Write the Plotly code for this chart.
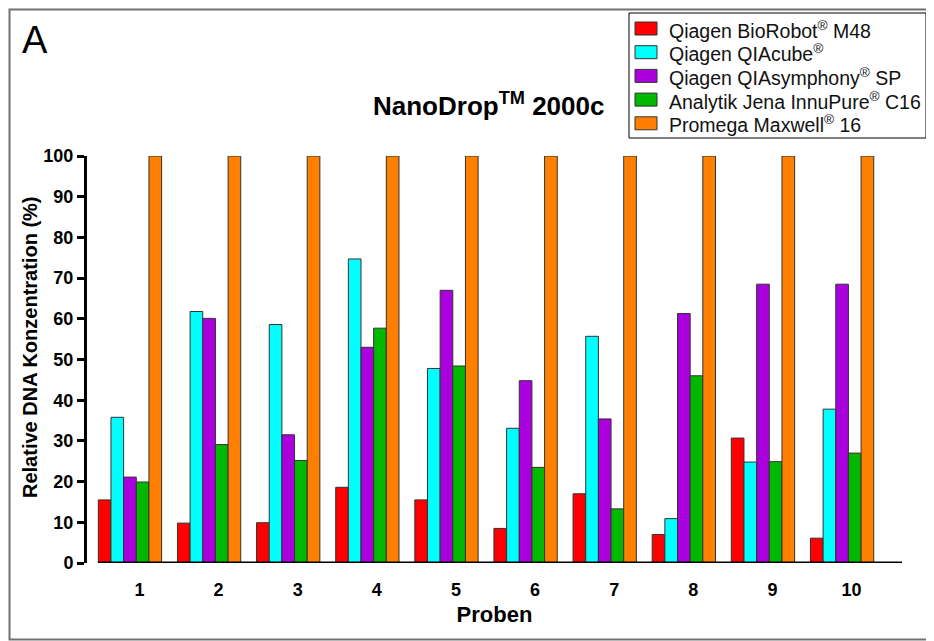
import plotly.graph_objects as go

samples = [1, 2, 3, 4, 5, 6, 7, 8, 9, 10]
tick_labels = ["1", "2", "3", "4", "5", "6", "7", "8", "9", "10"]

series_names = [
    "Qiagen BioRobot<sup>®</sup> M48",
    "Qiagen QIAcube<sup>®</sup>",
    "Qiagen QIAsymphony<sup>®</sup> SP",
    "Analytik Jena InnuPure<sup>®</sup> C16",
    "Promega Maxwell<sup>®</sup> 16",
]
biorobot = [15.5, 9.8, 9.9, 18.6, 15.5, 8.5, 17.0, 7.0, 30.7, 6.1]
qiacube = [35.8, 61.8, 58.6, 74.7, 47.8, 33.1, 55.7, 10.9, 24.8, 37.8]
qiasymphony = [21.1, 60.1, 31.5, 53.0, 67.0, 44.8, 35.4, 61.3, 68.5, 68.5]
innupure = [19.9, 29.1, 25.2, 57.7, 48.4, 23.5, 13.3, 46.0, 24.9, 27.0]
maxwell = [100, 100, 100, 100, 100, 100, 100, 100, 100, 100]

colors = ["#FF0000", "#00FFFF", "#AA00DD", "#00B800", "#FF8000"]
FONT = "Liberation Sans, Arial, sans-serif"

fig = go.Figure()
for name, vals, col in zip(series_names, [biorobot, qiacube, qiasymphony, innupure, maxwell], colors):
    fig.add_trace(go.Bar(
        x=samples, y=vals, name=name, showlegend=False,
        marker=dict(color=col, line=dict(color="#333333", width=1)),
    ))

# page body has an 8px margin: figure is drawn 8px right/down of window origin
OFF = 8
W, H = 934 - OFF, 641 - OFF
PL, PR, PT, PB = 87, 902, 156, 563          # plot area in window pixels
L, T = PL - OFF, PT - OFF
R, B = W - (PR - OFF), H - (PB - OFF)
pw, ph = PR - PL, PB - PT

def px_x(px):
    return (px - PL) / pw

def px_y(py):
    return (PB - py) / ph

fig.update_layout(
    width=W, height=H,
    margin=dict(l=L, r=R, t=T, b=B, autoexpand=False),
    paper_bgcolor="white", plot_bgcolor="white",
    barmode="group", bargap=0.2, bargroupgap=0,
    font=dict(family=FONT, color="black"),
    showlegend=False,
    xaxis=dict(
        range=[0.457, 10.757], automargin=False,
        tickvals=[s + 0.12 for s in samples], ticktext=tick_labels,
        showline=False, showgrid=False, zeroline=False, ticks="",
        ticklabelstandoff=14,
        tickfont=dict(family=FONT, size=18, color="black", weight="bold"),
        title=dict(text="Proben", font=dict(family=FONT, size=22, weight="bold"), standoff=7),
    ),
    yaxis=dict(
        range=[0, 100], tickvals=[0, 10, 20, 30, 40, 50, 60, 70, 80, 90, 100],
        automargin=False,
        showline=True, linecolor="black", linewidth=3,
        ticks="outside", ticklen=7, tickwidth=3, tickcolor="black",
        showgrid=False, zeroline=False,
        tickfont=dict(family=FONT, size=18, color="black", weight="bold"),
    ),
)

# x-axis baseline (offset from y axis, Prism style)
fig.add_shape(type="line", xref="x", yref="y", x0=0.6, x1=10.757, y0=0, y1=0,
              line=dict(color="black", width=3))

# outer frame
fig.add_shape(type="rect", xref="paper", yref="paper",
              x0=px_x(9.5), x1=px_x(932), y0=px_y(639.5), y1=px_y(9.5),
              line=dict(color="#707070", width=2), layer="below")

# legend box (drawn manually to match the original swatch size and row spacing)
fig.add_shape(type="rect", xref="paper", yref="paper",
              x0=px_x(629), x1=px_x(926), y0=px_y(138), y1=px_y(13),
              line=dict(color="black", width=1), fillcolor="white", layer="above")
row_y = [28.5, 52.2, 75.9, 99.6, 123.3]
for name, col, ry in zip(series_names, colors, row_y):
    fig.add_shape(type="rect", xref="paper", yref="paper",
                  x0=px_x(635), x1=px_x(657), y0=px_y(ry + 6.5), y1=px_y(ry - 6.5),
                  line=dict(color="#333333", width=1), fillcolor=col, layer="above")
    fig.add_annotation(text=name, xref="paper", yref="paper",
                       x=px_x(667), y=px_y(ry + 1), xanchor="left", yanchor="middle",
                       showarrow=False,
                       font=dict(family=FONT, size=19.5, color="#111111"))

# y-axis title
fig.add_annotation(text="Relative DNA Konzentration (%)", xref="paper", yref="paper",
                   x=px_x(30), y=px_y(347), xanchor="center", yanchor="middle",
                   textangle=-90, showarrow=False,
                   font=dict(family=FONT, size=20, color="black", weight="bold"))

fig.add_annotation(text="A", xref="paper", yref="paper", x=px_x(35), y=px_y(40),
                   xanchor="center", yanchor="middle", showarrow=False,
                   font=dict(family=FONT, size=38, color="black"))
fig.add_annotation(text="NanoDrop<sup>TM</sup> 2000c", xref="paper", yref="paper",
                   x=px_x(488.5), y=px_y(104), xanchor="center", yanchor="middle",
                   showarrow=False,
                   font=dict(family=FONT, size=26, color="black", weight="bold"))

fig.write_html("out.html")
